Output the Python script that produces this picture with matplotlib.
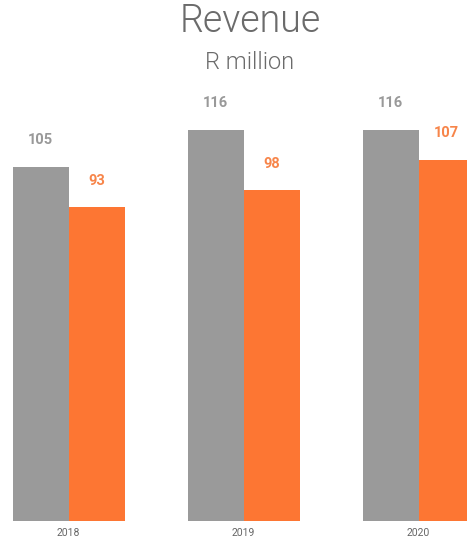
import numpy as np
import matplotlib.pyplot as plt

plt.rcParams['font.family'] = ['Roboto', 'DejaVu Sans']

years = ['2018', '2019', '2020']
gray_vals = [105, 116, 116]
orange_vals = [93, 98, 107]

gray = '#9a9a9a'
orange = '#fd7633'

fig = plt.figure(figsize=(4.67, 5.41), dpi=100)
ax = fig.add_axes([0, 20/541, 1, 431/541])

x = np.arange(len(years))
w = 0.32
ax.bar(x - w/2, gray_vals, w, color=gray, edgecolor='none')
ax.bar(x + w/2, orange_vals, w, color=orange, edgecolor='none')

for xi, v in zip(x, gray_vals):
    ax.annotate(str(v), (xi - w/2, v), xytext=(0, 14), textcoords='offset points',
                ha='center', va='bottom', fontsize=10.5, fontweight='bold', color='#999999')
for xi, v in zip(x, orange_vals):
    ax.annotate(str(v), (xi + w/2, v), xytext=(0, 14), textcoords='offset points',
                ha='center', va='bottom', fontsize=10.5, fontweight='bold', color='#f7854a')

ax.set_xlim(-68.5/175, (467 - 68.5)/175)
ax.set_ylim(0, 431/3.375)
ax.set_xticks(x)
ax.set_xticklabels(years, fontsize=7.5, color='#666666')
ax.tick_params(axis='x', length=0, pad=5)
ax.set_yticks([])
for s in ax.spines.values():
    s.set_visible(False)

fig.text(250/467, 1 - 21/541, 'Revenue', ha='center', va='center', fontsize=27,
         color='#6b6b6b', fontweight=300)
fig.text(250/467, 1 - 62/541, 'R million', ha='center', va='center', fontsize=17,
         color='#6b6b6b', fontweight=300)

fig.savefig('out.png', dpi=100)
